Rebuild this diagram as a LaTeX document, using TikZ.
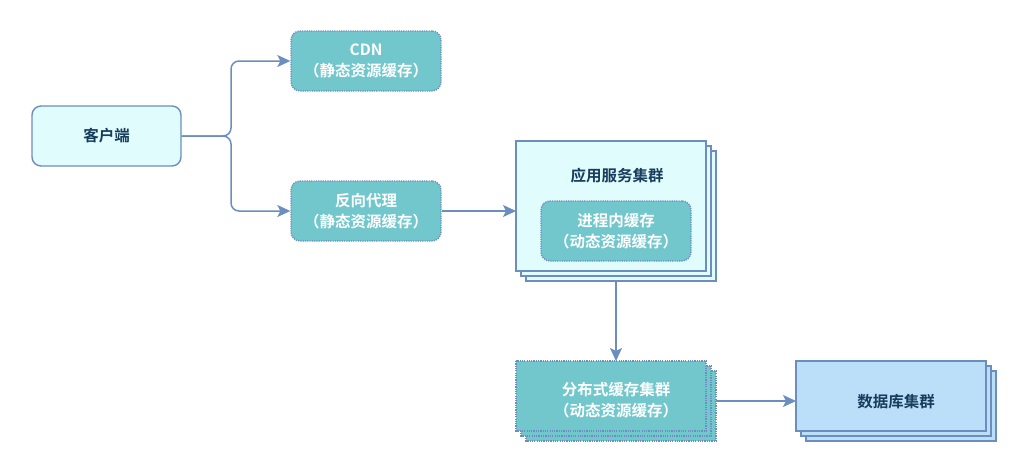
\documentclass[tikz,border=0pt]{standalone}
\usepackage{fontspec}
\setmainfont{Noto Sans CJK SC}[BoldFont={Noto Sans CJK SC Bold}]
\usetikzlibrary{arrows.meta}
\definecolor{edge}{HTML}{6C8EBF}
\definecolor{teal}{HTML}{71C7CB}
\definecolor{pale}{HTML}{E1FCFD}
\definecolor{dbfill}{HTML}{BCDFF9}
\definecolor{ink}{HTML}{173D5E}
\begin{document}
\begin{tikzpicture}[x=1pt,y=-1pt,
  font=\fontsize{15.5}{21}\selectfont\bfseries,
  solidbox/.style={draw=edge,line width=1.4pt,fill=pale,rounded corners=9pt,text=ink,align=center,minimum width=149pt,minimum height=60pt,inner sep=0pt},
  cachebox/.style={draw=edge,line width=1.4pt,dash pattern=on 1.2pt off 1.1pt,fill=teal,rounded corners=9pt,text=white,align=center,minimum width=150pt,minimum height=60pt,inner sep=0pt},
  plate/.style={draw=edge,line width=1.4pt},
  dotplate/.style={draw=edge,line width=1.4pt,dash pattern=on 1.2pt off 1.1pt,fill=teal},
  link/.style={draw=edge,line width=1.5pt,-{Stealth[length=13pt,width=12pt,inset=3pt]},rounded corners=8pt},
  lbl/.style={inner sep=0pt,align=center}]
\useasboundingbox (0,0) rectangle (1027,472);
% client
\node[solidbox] (client) at (106.5,136) {客户端};
% CDN and proxy
\node[cachebox] (cdn) at (366,61) {CDN\\（静态资源缓存）};
\node[cachebox] (proxy) at (366,211) {反向代理\\（静态资源缓存）};
% app service cluster (stack)
\draw[plate,fill=pale] (526,151) rectangle (716,281);
\draw[plate,fill=pale] (521,146) rectangle (711,276);
\draw[plate,fill=pale] (516,141) rectangle (706,271);
\coordinate (appL) at (516,211);
\coordinate (appB) at (616,281);
\node[lbl,text=ink] (apptitle) at (617,176) {应用服务集群};
\node[cachebox] (inproc) at (616,231) {进程内缓存\\（动态资源缓存）};
% distributed cache (stack)
\draw[dotplate] (526,371) rectangle (716,441);
\draw[dotplate] (521,366) rectangle (711,436);
\draw[dotplate] (516,361) rectangle (706,431);
\coordinate (distT) at (616,361);
\coordinate (distR) at (716,401);
\node[lbl,text=white] (dist) at (616,400) {分布式缓存集群\\（动态资源缓存）};
% database cluster (stack)
\draw[plate,fill=dbfill] (806,371) rectangle (996,441);
\draw[plate,fill=dbfill] (801,366) rectangle (991,436);
\draw[plate,fill=dbfill] (796,361) rectangle (986,431);
\coordinate (dbL) at (796,401);
\node[lbl,text=ink] (db) at (896,402) {数据库集群};
% connectors
\draw[link] (client.east) -- (231,136) |- (cdn.west);
\draw[link] (client.east) -- (231,136) |- (proxy.west);
\draw[link] (proxy.east) -- (appL);
\draw[link] (appB) -- (distT);
\draw[link] (distR) -- (dbL);
\end{tikzpicture}
\end{document}
